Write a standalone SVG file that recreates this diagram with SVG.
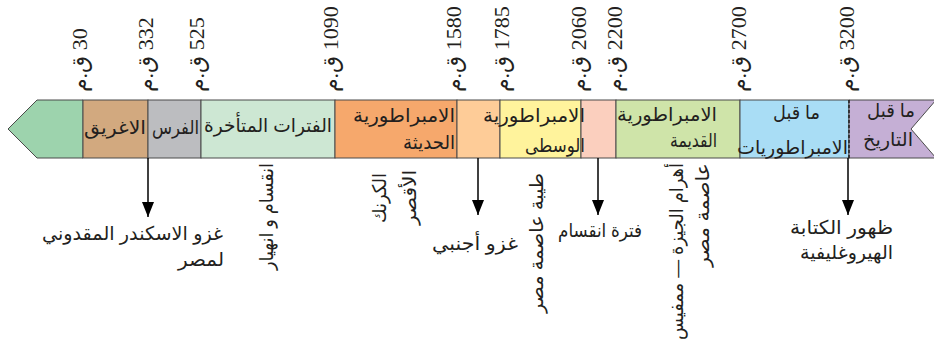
<svg xmlns="http://www.w3.org/2000/svg" width="934" height="345" viewBox="0 0 934 345">
<style>
.seg{stroke:#4a4a4a;stroke-width:1}
.t{font-family:"Liberation Sans","DejaVu Sans",sans-serif;font-size:19px;fill:#231f20;direction:rtl;text-anchor:start}
.tick{font-family:"Liberation Serif","DejaVu Serif","DejaVu Sans",serif;font-size:22px;fill:#231f20;direction:rtl;text-anchor:end}
.conn{stroke:#000;stroke-width:1.5;fill:none}
</style>
<defs>
<marker id="ah" markerWidth="15" markerHeight="12" refX="15" refY="6" orient="auto" markerUnits="userSpaceOnUse" viewBox="0 0 15 12">
<path d="M0,0 L15,6 L0,12 Z" fill="#000"/>
</marker>
</defs>
<rect width="934" height="345" fill="#fff"/>
<g id="seg-green"><polygon class="seg" points="37,100 83,100 83,158 37,158 8,129" fill="#9dd3ad"/></g>
<g id="seg-greeks"><rect class="seg" x="83" y="100" width="65" height="58" fill="#d2a97f"/><text class="t" x="146" y="134" textLength="62" lengthAdjust="spacingAndGlyphs">الاغريق</text></g>
<g id="seg-persians"><rect class="seg" x="148" y="100" width="53" height="58" fill="#bcbdc0"/><text class="t" x="199" y="134" textLength="47" lengthAdjust="spacingAndGlyphs">الفرس</text></g>
<g id="seg-late"><rect class="seg" x="201" y="100" width="134" height="58" fill="#cde7d3"/><text class="t" x="332" y="132" textLength="128" lengthAdjust="spacingAndGlyphs">الفترات المتأخرة</text></g>
<g id="seg-new"><rect class="seg" x="335" y="100" width="122" height="58" fill="#f6a86c"/><text class="t" x="455" y="122" textLength="102" lengthAdjust="spacingAndGlyphs">الامبراطورية</text><text class="t" x="455" y="149" textLength="52" lengthAdjust="spacingAndGlyphs">الحديثة</text></g>
<g id="seg-lightorange"><rect class="seg" x="457" y="100" width="43" height="58" fill="#fecc98"/></g>
<g id="seg-middle"><rect class="seg" x="500" y="100" width="81" height="58" fill="#fff39c"/></g>
<g id="seg-pink"><rect class="seg" x="581" y="100" width="35" height="58" fill="#fbcfbe"/></g>
<g id="seg-old"><rect class="seg" x="616" y="100" width="124" height="58" fill="#cfe4a9"/><text class="t" x="717" y="121" textLength="100" lengthAdjust="spacingAndGlyphs">الامبراطورية</text><text class="t" x="717" y="147" textLength="47" lengthAdjust="spacingAndGlyphs">القديمة</text></g>
<g id="seg-predyn"><rect class="seg" x="740" y="100" width="109" height="58" fill="#a9ddf5"/><text class="t" x="820" y="119" textLength="47" lengthAdjust="spacingAndGlyphs">ما قبل</text><text class="t" x="848" y="154" textLength="111" lengthAdjust="spacingAndGlyphs">الامبراطوريات</text></g>
<g id="seg-prehist"><polygon class="seg" points="849,100 936,100 911,129 936,158 849,158" fill="#c5afd5"/><text class="t" x="915" y="117" textLength="48" lengthAdjust="spacingAndGlyphs">ما قبل</text><text class="t" x="913" y="146" textLength="50" lengthAdjust="spacingAndGlyphs">التاريخ</text></g>
<g id="middle-label"><text class="t" x="585" y="122" textLength="102" lengthAdjust="spacingAndGlyphs">الامبراطورية</text><text class="t" x="585" y="152" textLength="60" lengthAdjust="spacingAndGlyphs">الوسطى</text></g>
<g id="ticks">
<text class="tick" transform="translate(87,92) rotate(-90)">30 ق.م</text>
<text class="tick" transform="translate(153,92) rotate(-90)">332 ق.م</text>
<text class="tick" transform="translate(204,92) rotate(-90)">525 ق.م</text>
<text class="tick" transform="translate(338,92) rotate(-90)">1090 ق.م</text>
<text class="tick" transform="translate(461,92) rotate(-90)">1580 ق.م</text>
<text class="tick" transform="translate(509,92) rotate(-90)">1785 ق.م</text>
<text class="tick" transform="translate(586,92) rotate(-90)">2060 ق.م</text>
<text class="tick" transform="translate(622,92) rotate(-90)">2200 ق.م</text>
<text class="tick" transform="translate(746,92) rotate(-90)">2700 ق.م</text>
<text class="tick" transform="translate(854,92) rotate(-90)">3200 ق.م</text>
</g>
<g id="connectors">
<line x1="849" y1="100" x2="849" y2="158" stroke="#222" stroke-width="1.5" stroke-dasharray="3,2"/>
<line class="conn" x1="148" y1="158" x2="148" y2="217" marker-end="url(#ah)"/>
<line class="conn" x1="478" y1="158" x2="478" y2="215" marker-end="url(#ah)"/>
<line class="conn" x1="598" y1="158" x2="598" y2="215" marker-end="url(#ah)"/>
<line class="conn" x1="848" y1="158" x2="848" y2="215" marker-end="url(#ah)"/>
</g>
<g id="notes">
<text class="t" x="223" y="240" textLength="181" lengthAdjust="spacingAndGlyphs">غزو الاسكندر المقدوني</text>
<text class="t" x="224" y="266" textLength="46" lengthAdjust="spacingAndGlyphs">لمصر</text>
<text class="t" transform="translate(273,163) rotate(-90)" textLength="107" lengthAdjust="spacingAndGlyphs">انقسام و انهيار</text>
<text class="t" transform="translate(386,173) rotate(-90)" textLength="50" lengthAdjust="spacingAndGlyphs">الكرنك</text>
<text class="t" transform="translate(416,170) rotate(-90)" textLength="55" lengthAdjust="spacingAndGlyphs">الأقصر</text>
<text class="t" x="518" y="250" textLength="86" lengthAdjust="spacingAndGlyphs">غزو أجنبي</text>
<text class="t" transform="translate(543,173) rotate(-90)" textLength="140" lengthAdjust="spacingAndGlyphs">طيبة عاصمة مصر</text>
<text class="t" x="642" y="237" textLength="84" lengthAdjust="spacingAndGlyphs">فترة انقسام</text>
<text class="t" transform="translate(683,163) rotate(-90)" textLength="177" lengthAdjust="spacingAndGlyphs">أهرام الجيزة — ممفيس</text>
<text class="t" transform="translate(709,163) rotate(-90)" textLength="104" lengthAdjust="spacingAndGlyphs">عاصمة مصر</text>
<text class="t" x="893" y="234" textLength="103" lengthAdjust="spacingAndGlyphs">ظهور الكتابة</text>
<text class="t" x="893" y="259" textLength="93" lengthAdjust="spacingAndGlyphs">الهيروغليفية</text>
</g>
</svg>
